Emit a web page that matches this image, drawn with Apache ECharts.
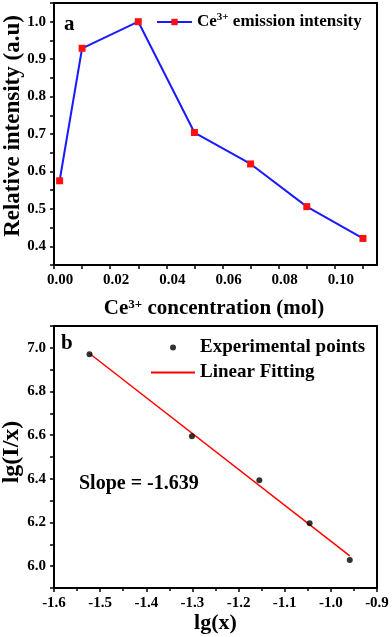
<!DOCTYPE html>
<html><head><meta charset="utf-8">
<script src="https://cdn.jsdelivr.net/npm/echarts@6/dist/echarts.min.js"></script>
<style>html,body{margin:0;padding:0;background:#fff}#c{width:392px;height:637px}</style>
</head><body><div id="c"></div>
<script>
// Panel a
const concentration = [0.002, 0.01, 0.03, 0.05, 0.07, 0.09, 0.11];
const relIntensity = [0.575, 0.929, 1.0, 0.704, 0.620, 0.506, 0.421];
// Panel b
const lgX = [-1.523, -1.301, -1.155, -1.046, -0.959];
const lgIX = [6.971, 6.595, 6.393, 6.196, 6.028];
const fitX = [-1.523, -0.959];
const fitY = [6.974, 6.047];
const slopeText = 'Slope = -1.639';

const F = 'Liberation Serif, Times New Roman, serif';
const chart = echarts.init(document.getElementById('c'));
const lab = {color: '#000', fontFamily: F, fontWeight: 'bold', fontSize: 15, margin: 8};
function baseAxis(o) {
  return Object.assign({
    axisLine: {show: true, onZero: false, lineStyle: {color: '#000', width: 2}},
    axisTick: {show: true, inside: false, length: 4, lineStyle: {color: '#000', width: 1.5}},
    splitLine: {show: false}
  }, o);
}
function frameAxis(gi, pos, min, max) {
  return {type: 'value', gridIndex: gi, position: pos, min: min, max: max,
    axisLine: {show: true, onZero: false, lineStyle: {color: '#000', width: 2}},
    axisTick: {show: false}, axisLabel: {show: false}, splitLine: {show: false}};
}

chart.setOption({
  animation: false,
  grid: [
    {left: 54, right: 15, top: 3, height: 262, containLabel: false, outerBoundsMode: 'none'},
    {left: 54, right: 15, top: 326, height: 262, containLabel: false, outerBoundsMode: 'none'}
  ],
  xAxis: [
    baseAxis({type: 'value', gridIndex: 0, min: 0, max: 0.115, interval: 0.01,
      axisLabel: Object.assign({}, lab, {padding: [0, 0, 0, 12], showMaxLabel: false,
        formatter: v => (Math.round(v * 100) % 2 === 0 ? v.toFixed(2) : '')}),
      name: '{a|Ce}{s|3+}{a| concentration (mol)}', nameLocation: 'middle', nameGap: 33,
      nameTextStyle: {padding: [0, 3, 0, 0], rich: {
        a: {fontFamily: F, fontWeight: 'bold', fontSize: 21, color: '#000', lineHeight: 22},
        s: {fontFamily: F, fontWeight: 'bold', fontSize: 13, color: '#000', verticalAlign: 'top', lineHeight: 22}
      }}}),
    baseAxis({type: 'value', gridIndex: 1, min: -1.6, max: -0.9, interval: 0.1,
      minorTick: {show: true, splitNumber: 2, length: 3, lineStyle: {color: '#000', width: 1.5}},
      axisLabel: Object.assign({}, lab, {formatter: v => v.toFixed(1)}),
      name: 'lg(x)', nameLocation: 'middle', nameGap: 19,
      nameTextStyle: {fontFamily: F, fontWeight: 'bold', fontSize: 22, color: '#000'}}),
    frameAxis(0, 'top', 0, 0.115),
    frameAxis(1, 'top', -1.6, -0.9)
  ],
  yAxis: [
    baseAxis({type: 'value', gridIndex: 0, min: 0.35, max: 1.05, interval: 0.05,
      axisLabel: Object.assign({}, lab, {
        formatter: v => (Math.round(v * 100) % 10 === 0 ? v.toFixed(1) : '')})}),
    baseAxis({type: 'value', gridIndex: 1, min: 5.9, max: 7.1, interval: 0.1,
      axisLabel: Object.assign({}, lab, {
        formatter: v => (Math.round(v * 10) % 2 === 0 ? v.toFixed(1) : '')})}),
    frameAxis(0, 'right', 0.35, 1.05),
    frameAxis(1, 'right', 5.9, 7.1)
  ],
  legend: [
    {left: 156, top: 12, padding: 0, itemWidth: 35, itemHeight: 8, selectedMode: false,
      data: ['Ce3+ emission intensity'],
      formatter: () => '{a|Ce}{s|3+}{a| emission intensity}',
      textStyle: {rich: {
        a: {fontFamily: F, fontWeight: 'bold', fontSize: 17, color: '#000', lineHeight: 20},
        s: {fontFamily: F, fontWeight: 'bold', fontSize: 11, color: '#000', verticalAlign: 'top', lineHeight: 20}
      }}},
    {left: 150, top: 338, padding: 0, orient: 'vertical', itemWidth: 44, itemHeight: 6, itemGap: 6, selectedMode: false,
      data: [{name: 'Experimental points', icon: 'circle'},
             {name: 'Linear Fitting', itemStyle: {opacity: 0}}],
      textStyle: {fontFamily: F, fontWeight: 'bold', fontSize: 19, color: '#000'}}
  ],
  series: [
    {name: 'Ce3+ emission intensity', type: 'line', xAxisIndex: 0, yAxisIndex: 0,
      data: concentration.map((x, i) => [x, relIntensity[i]]),
      lineStyle: {color: '#1a1aff', width: 2}, symbol: 'rect', symbolSize: 7,
      itemStyle: {color: '#ff1010'}, z: 3},
    {name: 'Linear Fitting', type: 'line', xAxisIndex: 1, yAxisIndex: 1,
      data: fitX.map((x, i) => [x, fitY[i]]), symbol: 'none',
      lineStyle: {color: '#ff0000', width: 1.5}, itemStyle: {color: '#ff0000'}, z: 2},
    {name: 'Experimental points', type: 'scatter', xAxisIndex: 1, yAxisIndex: 1,
      data: lgX.map((x, i) => [x, lgIX[i]]), symbol: 'circle', symbolSize: 6,
      itemStyle: {color: '#000'}, z: 3}
  ],
  graphic: [
    {type: 'text', x: 13, y: 126, rotation: Math.PI / 2,
      style: {text: 'Relative intensity (a.u)', font: 'bold 23px ' + F, fill: '#000', align: 'center', verticalAlign: 'middle'}},
    {type: 'text', x: 12, y: 452, rotation: Math.PI / 2,
      style: {text: 'lg(I/x)', font: 'bold 24px ' + F, fill: '#000', align: 'center', verticalAlign: 'middle'}},
    {type: 'text', left: 64, top: 14, style: {text: 'a', font: 'bold 21px ' + F, fill: '#000'}},
    {type: 'text', left: 61, top: 333, style: {text: 'b', font: 'bold 21px ' + F, fill: '#000'}},
    {type: 'text', left: 79, top: 474, style: {text: slopeText, font: 'bold 20px ' + F, fill: '#000'}}
  ]
});
</script></body></html>
